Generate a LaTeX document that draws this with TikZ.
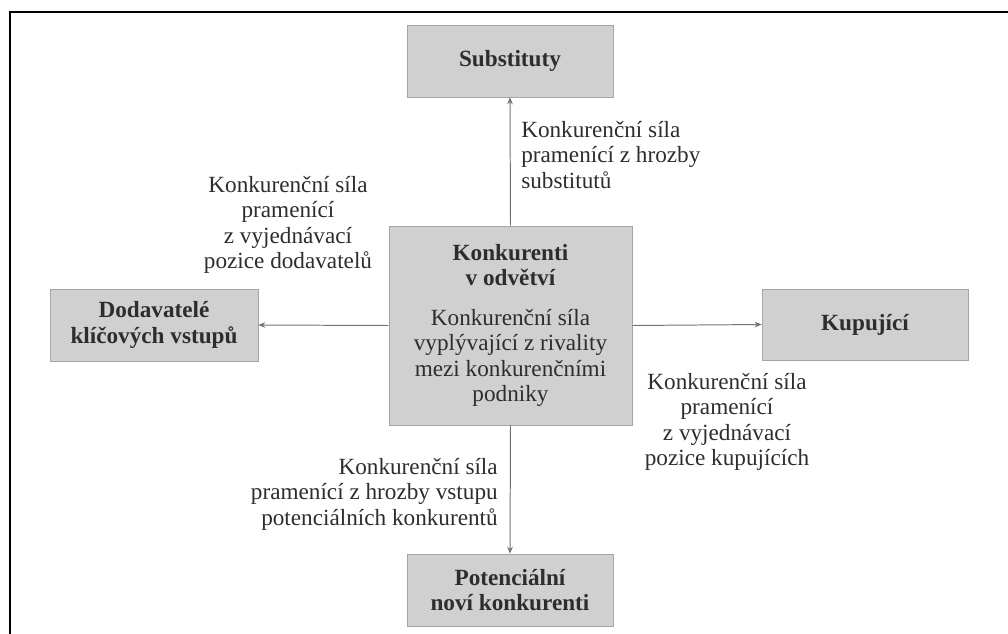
\documentclass[tikz,border=0pt]{standalone}
\usepackage{fontspec}
\setmainfont{Liberation Serif}
\usetikzlibrary{arrows.meta}

\definecolor{boxfill}{RGB}{208,208,208}
\definecolor{boxline}{RGB}{165,165,165}
\definecolor{wire}{RGB}{115,115,115}
\definecolor{ink}{RGB}{45,45,45}

\tikzset{
    force/.style={draw=boxline, fill=boxfill, text=ink, align=center, inner sep=0pt,
        font=\fontsize{16.5}{18.1}\selectfont\bfseries},
    note/.style={text=ink, inner sep=0pt, font=\fontsize{16.5}{18.1}\selectfont},
    pull/.style={draw=wire, line width=0.7pt, -{Stealth[length=5pt, width=4pt]}}
}

\begin{document}
\begin{tikzpicture}[x=0.025cm, y=-0.025cm]
    \useasboundingbox (0,0) rectangle (1008,633);
    % Frame (cut at right and bottom)
    \draw[line width=1.5pt] (1020,12) -- (10,12) -- (10,645);

    % Define coordinates for the five forces
    \coordinate (M) at (510.5,325.5);
    \coordinate (S) at (510,61);
    \coordinate (D) at (154,325);
    \coordinate (K) at (865,324.5);
    \coordinate (P) at (510,590);

    % Boxes
    \node[force, minimum width=6.075cm, minimum height=4.975cm] (rival) at (M)
        {Konkurenti\\v odvětví\\[10pt]
         \mdseries Konkurenční síla\\\mdseries vyplývající z rivality\\\mdseries mezi konkurenčními\\\mdseries podniky};
    \node[force, minimum width=5.15cm, minimum height=1.8cm] (subst) at (S) {Substituty};
    \node[force, minimum width=5.2cm, minimum height=1.8cm] (supp) at (D) {Dodavatelé\\klíčových vstupů};
    \node[force, minimum width=5.15cm, minimum height=1.775cm] (buyer) at (K) {Kupující};
    \node[force, minimum width=5.15cm, minimum height=1.8cm] (entr) at (P) {Potenciální\\noví konkurenti};

    % Arrows
    \draw[pull] (rival.north) -- (subst.south);
    \draw[pull] (rival.west) -- (supp.east);
    \draw[pull] (rival.east) -- (buyer.west);
    \draw[pull] (rival.south) -- (entr.north);

    % Labels
    \node[note, align=left, anchor=west] (lsubst) at (521,155)
        {Konkurenční síla\\pramenící z hrozby\\substitutů};
    \node[note, align=center] (lsupp) at (288,225)
        {Konkurenční síla\\pramenící\\z vyjednávací\\pozice dodavatelů};
    \node[note, align=center] (lbuyer) at (727,422)
        {Konkurenční síla\\pramenící\\z vyjednávací\\pozice kupujících};
    \node[note, align=right, anchor=east] (lentr) at (498,494)
        {Konkurenční síla\\pramenící z hrozby vstupu\\potenciálních konkurentů};
\end{tikzpicture}
\end{document}
